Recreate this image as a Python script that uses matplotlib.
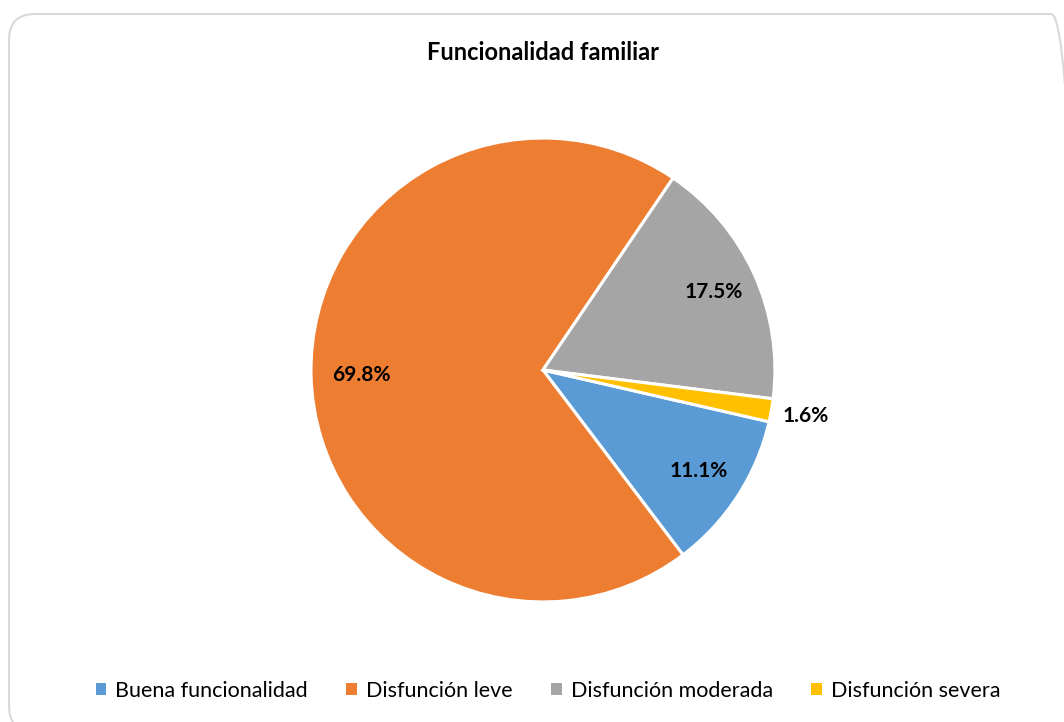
import matplotlib.pyplot as plt
from matplotlib.patches import FancyBboxPatch, Patch
from matplotlib.transforms import IdentityTransform
import numpy as np

categorias = ['Buena funcionalidad', 'Disfunción leve', 'Disfunción moderada', 'Disfunción severa']
valores = [11.1, 69.8, 17.5, 1.6]
etiquetas = ['11.1%', '69.8%', '17.5%', '1.6%']
colores = ['#5B9BD5', '#ED7D31', '#A5A5A5', '#FFC000']

plt.rcParams['font.family'] = ['Lato', 'DejaVu Sans']

fig = plt.figure(figsize=(10.64, 7.22), dpi=100)

# rounded chart border (pixel coords), right and bottom edges run off the canvas
borde = FancyBboxPatch((9, -10), 1068, 718,
                       boxstyle='round,pad=0,rounding_size=26',
                       transform=IdentityTransform(), facecolor='none', zorder=-1,
                       edgecolor='#D9D9D9', linewidth=1.5)
fig.patches.append(borde)

fig.text(543 / 1064, 1 - 52 / 722, 'Funcionalidad familiar', ha='center', va='center',
         fontsize=17, fontweight='bold', color='#000000')

ax = fig.add_axes([0.2923, 0.1662, 0.436, 0.6427])
wedges, _ = ax.pie(valores, colors=colores, startangle=-12.9, counterclock=False,
                   radius=1, wedgeprops=dict(edgecolor='white', linewidth=2.2))
ax.set_xlim(-1, 1)
ax.set_ylim(-1, 1)
ax.set_aspect('equal')
ax.axis('off')

distancias = [0.80, 0.785, 0.81, 1.15]
for w, txt, d in zip(wedges, etiquetas, distancias):
    ang = np.deg2rad((w.theta1 + w.theta2) / 2)
    ax.text(d * np.cos(ang), d * np.sin(ang), txt, ha='center', va='center',
            fontsize=15, fontweight='bold', color='black')

handles = [Patch(facecolor=c, edgecolor='none') for c in colores]
fig.legend(handles, categorias, loc='center', bbox_to_anchor=(548 / 1064, 1 - 691 / 722),
           ncol=4, frameon=False, fontsize=15.5, handlelength=0.5, handleheight=0.5,
           handletextpad=0.4, columnspacing=1.8)

fig.savefig('out.png', dpi=100)
